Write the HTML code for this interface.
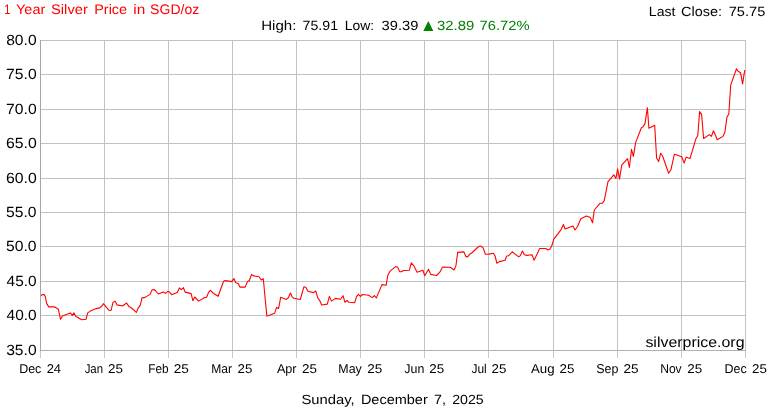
<!DOCTYPE html>
<html><head><meta charset="utf-8"><title>1 Year Silver Price in SGD/oz</title>
<style>
html,body{margin:0;padding:0;background:#fff;}
body{width:770px;height:410px;overflow:hidden;font-family:"Liberation Sans",sans-serif;}
svg{display:block;opacity:0.999;will-change:transform;text-rendering:geometricPrecision;}
svg text{font-family:"Liberation Sans",sans-serif;}
</style></head><body>
<svg width="770" height="410" viewBox="0 0 770 410">
<rect x="0" y="0" width="770" height="410" fill="#ffffff"/>
<g shape-rendering="crispEdges">
<rect x="40" y="351" width="1" height="7" fill="#c8c8c8"/>
<rect x="104" y="351" width="1" height="7" fill="#c8c8c8"/>
<rect x="168" y="351" width="1" height="7" fill="#c8c8c8"/>
<rect x="232" y="351" width="1" height="7" fill="#c8c8c8"/>
<rect x="296" y="351" width="1" height="7" fill="#c8c8c8"/>
<rect x="360" y="351" width="1" height="7" fill="#c8c8c8"/>
<rect x="424" y="351" width="1" height="7" fill="#c8c8c8"/>
<rect x="488" y="351" width="1" height="7" fill="#c8c8c8"/>
<rect x="553" y="351" width="1" height="7" fill="#c8c8c8"/>
<rect x="617" y="351" width="1" height="7" fill="#c8c8c8"/>
<rect x="681" y="351" width="1" height="7" fill="#c8c8c8"/>
<rect x="745" y="351" width="1" height="7" fill="#c8c8c8"/>
<rect x="104" y="40" width="1" height="311" fill="#c2c2c2"/>
<rect x="168" y="40" width="1" height="311" fill="#c2c2c2"/>
<rect x="232" y="40" width="1" height="311" fill="#c2c2c2"/>
<rect x="296" y="40" width="1" height="311" fill="#c2c2c2"/>
<rect x="360" y="40" width="1" height="311" fill="#c2c2c2"/>
<rect x="424" y="40" width="1" height="311" fill="#c2c2c2"/>
<rect x="488" y="40" width="1" height="311" fill="#c2c2c2"/>
<rect x="553" y="40" width="1" height="311" fill="#c2c2c2"/>
<rect x="617" y="40" width="1" height="311" fill="#c2c2c2"/>
<rect x="681" y="40" width="1" height="311" fill="#c2c2c2"/>
<rect x="745" y="40" width="1" height="311" fill="#c2c2c2"/>
<rect x="40" y="40" width="706" height="1" fill="#c2c2c2"/>
<rect x="40" y="74" width="706" height="1" fill="#c2c2c2"/>
<rect x="40" y="109" width="706" height="1" fill="#c2c2c2"/>
<rect x="40" y="143" width="706" height="1" fill="#c2c2c2"/>
<rect x="40" y="178" width="706" height="1" fill="#c2c2c2"/>
<rect x="40" y="212" width="706" height="1" fill="#c2c2c2"/>
<rect x="40" y="246" width="706" height="1" fill="#c2c2c2"/>
<rect x="40" y="281" width="706" height="1" fill="#c2c2c2"/>
<rect x="40" y="315" width="706" height="1" fill="#c2c2c2"/>
<rect x="40" y="350" width="706" height="1" fill="#b0b0b0"/>
<rect x="40" y="40" width="1" height="311" fill="#a6a6a6"/>
</g>
<g lengthAdjust="spacingAndGlyphs">
<text x="4.14" y="14" font-size="13.8" fill="#ff0000" textLength="6.16" lengthAdjust="spacingAndGlyphs">1</text>
<text x="16.05" y="14" font-size="13.8" fill="#ff0000" textLength="29.21" lengthAdjust="spacingAndGlyphs">Year</text>
<text x="51.07" y="14" font-size="13.8" fill="#ff0000" textLength="36.73" lengthAdjust="spacingAndGlyphs">Silver</text>
<text x="94.20" y="14" font-size="13.8" fill="#ff0000" textLength="32.94" lengthAdjust="spacingAndGlyphs">Price</text>
<text x="133.39" y="14" font-size="13.8" fill="#ff0000" textLength="11.98" lengthAdjust="spacingAndGlyphs">in</text>
<text x="150.13" y="14" font-size="13.8" fill="#ff0000" textLength="49.19" lengthAdjust="spacingAndGlyphs">SGD/oz</text>
<text x="648.86" y="16" font-size="13.3" fill="#000000" textLength="26.53" lengthAdjust="spacingAndGlyphs">Last</text>
<text x="680.99" y="16" font-size="13.3" fill="#000000" textLength="40.96" lengthAdjust="spacingAndGlyphs">Close:</text>
<text x="728.73" y="16" font-size="13.3" fill="#000000" textLength="36.54" lengthAdjust="spacingAndGlyphs">75.75</text>
<text x="261.22" y="30" font-size="13.3" fill="#000000" textLength="35.22" lengthAdjust="spacingAndGlyphs">High:</text>
<text x="302.64" y="30" font-size="13.3" fill="#000000" textLength="35.41" lengthAdjust="spacingAndGlyphs">75.91</text>
<text x="344.75" y="30" font-size="13.3" fill="#000000" textLength="29.42" lengthAdjust="spacingAndGlyphs">Low:</text>
<text x="381.62" y="30" font-size="13.3" fill="#000000" textLength="36.73" lengthAdjust="spacingAndGlyphs">39.39</text>
<text x="437.08" y="30" font-size="13.3" fill="#008000" textLength="37.11" lengthAdjust="spacingAndGlyphs">32.89</text>
<text x="479.60" y="30" font-size="13.3" fill="#008000" textLength="50.09" lengthAdjust="spacingAndGlyphs">76.72%</text>
<text x="645.40" y="347" font-size="14.6" fill="#000000" textLength="99.15" lengthAdjust="spacingAndGlyphs">silverprice.org</text>
<text x="301.47" y="404" font-size="13.3" fill="#000000" textLength="53.24" lengthAdjust="spacingAndGlyphs">Sunday,</text>
<text x="360.90" y="404" font-size="13.3" fill="#000000" textLength="66.85" lengthAdjust="spacingAndGlyphs">December</text>
<text x="434.06" y="404" font-size="13.3" fill="#000000" textLength="11.89" lengthAdjust="spacingAndGlyphs">7,</text>
<text x="452.23" y="404" font-size="13.3" fill="#000000" textLength="31.52" lengthAdjust="spacingAndGlyphs">2025</text>
<text x="6.19" y="45" font-size="14.8" fill="#000000" textLength="30.41" lengthAdjust="spacingAndGlyphs">80.0</text>
<text x="6.08" y="79" font-size="14.8" fill="#000000" textLength="30.56" lengthAdjust="spacingAndGlyphs">75.0</text>
<text x="6.08" y="114" font-size="14.8" fill="#000000" textLength="30.56" lengthAdjust="spacingAndGlyphs">70.0</text>
<text x="5.98" y="148" font-size="14.8" fill="#000000" textLength="30.78" lengthAdjust="spacingAndGlyphs">65.0</text>
<text x="5.98" y="183" font-size="14.8" fill="#000000" textLength="30.78" lengthAdjust="spacingAndGlyphs">60.0</text>
<text x="6.03" y="217" font-size="14.8" fill="#000000" textLength="30.54" lengthAdjust="spacingAndGlyphs">55.0</text>
<text x="6.03" y="251" font-size="14.8" fill="#000000" textLength="30.54" lengthAdjust="spacingAndGlyphs">50.0</text>
<text x="6.59" y="286" font-size="14.8" fill="#000000" textLength="30.04" lengthAdjust="spacingAndGlyphs">45.0</text>
<text x="6.59" y="320" font-size="14.8" fill="#000000" textLength="30.04" lengthAdjust="spacingAndGlyphs">40.0</text>
<text x="6.18" y="355" font-size="14.8" fill="#000000" textLength="30.44" lengthAdjust="spacingAndGlyphs">35.0</text>
<text x="19.16" y="373" font-size="12.8" fill="#000000" textLength="22.20" lengthAdjust="spacingAndGlyphs">Dec</text>
<text x="46.67" y="373" font-size="12.8" fill="#000000" textLength="14.41" lengthAdjust="spacingAndGlyphs">24</text>
<text x="84.66" y="373" font-size="12.8" fill="#000000" textLength="18.44" lengthAdjust="spacingAndGlyphs">Jan</text>
<text x="108.08" y="373" font-size="12.8" fill="#000000" textLength="14.89" lengthAdjust="spacingAndGlyphs">25</text>
<text x="148.18" y="373" font-size="12.8" fill="#000000" textLength="20.40" lengthAdjust="spacingAndGlyphs">Feb</text>
<text x="173.76" y="373" font-size="12.8" fill="#000000" textLength="15.17" lengthAdjust="spacingAndGlyphs">25</text>
<text x="211.27" y="373" font-size="12.8" fill="#000000" textLength="20.77" lengthAdjust="spacingAndGlyphs">Mar</text>
<text x="237.57" y="373" font-size="12.8" fill="#000000" textLength="14.83" lengthAdjust="spacingAndGlyphs">25</text>
<text x="276.90" y="373" font-size="12.8" fill="#000000" textLength="19.66" lengthAdjust="spacingAndGlyphs">Apr</text>
<text x="302.01" y="373" font-size="12.8" fill="#000000" textLength="14.85" lengthAdjust="spacingAndGlyphs">25</text>
<text x="338.32" y="373" font-size="12.8" fill="#000000" textLength="23.46" lengthAdjust="spacingAndGlyphs">May</text>
<text x="367.27" y="373" font-size="12.8" fill="#000000" textLength="15.05" lengthAdjust="spacingAndGlyphs">25</text>
<text x="404.31" y="373" font-size="12.8" fill="#000000" textLength="19.99" lengthAdjust="spacingAndGlyphs">Jun</text>
<text x="429.25" y="373" font-size="12.8" fill="#000000" textLength="14.93" lengthAdjust="spacingAndGlyphs">25</text>
<text x="471.41" y="373" font-size="12.8" fill="#000000" textLength="15.28" lengthAdjust="spacingAndGlyphs">Jul</text>
<text x="491.57" y="373" font-size="12.8" fill="#000000" textLength="14.83" lengthAdjust="spacingAndGlyphs">25</text>
<text x="531.03" y="373" font-size="12.8" fill="#000000" textLength="23.58" lengthAdjust="spacingAndGlyphs">Aug</text>
<text x="559.47" y="373" font-size="12.8" fill="#000000" textLength="14.83" lengthAdjust="spacingAndGlyphs">25</text>
<text x="596.26" y="373" font-size="12.8" fill="#000000" textLength="22.13" lengthAdjust="spacingAndGlyphs">Sep</text>
<text x="623.54" y="373" font-size="12.8" fill="#000000" textLength="15.13" lengthAdjust="spacingAndGlyphs">25</text>
<text x="660.15" y="373" font-size="12.8" fill="#000000" textLength="21.53" lengthAdjust="spacingAndGlyphs">Nov</text>
<text x="687.25" y="373" font-size="12.8" fill="#000000" textLength="14.93" lengthAdjust="spacingAndGlyphs">25</text>
<text x="724.55" y="373" font-size="12.8" fill="#000000" textLength="22.17" lengthAdjust="spacingAndGlyphs">Dec</text>
<text x="752.01" y="373" font-size="12.8" fill="#000000" textLength="14.85" lengthAdjust="spacingAndGlyphs">25</text>
</g>
<path d="M423.3 30.9 L428.3 21.0 L433.3 30.9 Z" fill="#008000"/>
<polyline points="41.0,295.7 42.7,294.4 44.4,294.7 45.3,296.6 46.6,303.4 48.7,306.9 54.3,306.7 58.4,309.3 60.5,319.3 62.4,315.9 70.4,312.9 72.3,315.4 74.0,312.9 75.7,316.3 81.7,319.7 86.0,319.3 87.7,312.9 90.3,311.1 96.3,308.6 99.7,307.9 101.9,306.0 103.4,303.7 109.0,310.3 111.1,310.5 112.9,302.6 115.0,301.1 117.1,304.9 122.5,306.0 126.6,303.0 128.7,306.4 130.9,307.5 136.4,312.4 138.1,308.1 140.3,305.1 142.0,297.9 145.0,297.4 150.1,294.4 151.9,290.1 154.0,289.5 155.7,291.0 158.3,294.0 163.4,292.0 165.6,293.4 167.8,291.3 169.3,291.9 171.6,294.7 177.3,292.4 179.4,287.9 181.3,289.6 183.4,287.7 185.1,292.1 191.1,293.6 192.9,300.7 194.8,297.0 198.7,301.1 204.4,297.7 206.6,297.3 208.7,292.1 210.4,290.3 213.0,293.0 218.1,296.3 223.6,281.3 225.2,280.6 231.9,281.6 233.9,278.6 235.8,282.7 238.2,283.6 239.9,287.1 245.2,287.1 247.4,281.8 249.4,280.5 251.4,274.6 253.7,275.9 259.0,276.8 261.3,280.0 263.3,278.7 266.8,315.9 268.9,315.6 274.7,313.2 276.6,307.4 278.6,308.4 280.7,297.3 286.3,299.4 288.3,297.8 290.4,293.0 292.1,296.8 293.8,298.3 300.3,299.5 303.9,286.8 305.9,287.6 308.0,291.3 313.6,292.6 315.7,291.0 317.9,298.1 319.6,300.3 321.7,305.0 327.3,304.1 329.4,296.4 331.4,301.1 335.4,298.4 340.6,299.3 343.0,295.7 344.9,302.2 347.0,300.5 349.1,302.3 354.7,302.7 356.4,296.9 358.4,294.3 360.5,296.3 362.5,294.5 368.6,295.3 372.3,297.6 374.3,295.7 376.4,297.9 382.0,284.6 386.1,285.3 387.8,275.5 389.8,271.4 395.6,266.6 397.7,267.3 399.6,271.6 401.4,271.8 403.5,270.5 409.3,270.3 411.3,262.8 413.7,265.6 417.1,272.3 422.9,270.3 424.8,275.8 428.5,269.3 430.7,274.4 436.6,275.5 440.0,271.9 442.6,267.1 450.3,267.3 454.1,270.0 455.9,265.9 457.7,252.4 464.0,251.9 465.7,256.4 467.6,256.9 470.0,253.9 471.7,253.0 478.1,247.0 480.3,246.1 482.9,247.4 485.4,254.3 488.9,254.1 493.4,253.3 495.1,256.0 496.9,263.3 499.4,261.6 505.0,260.3 506.7,256.0 508.4,255.8 512.3,251.9 518.7,256.9 520.4,255.6 522.4,250.9 524.3,254.7 526.9,255.4 532.0,254.7 534.1,260.3 539.7,248.5 545.7,248.5 547.9,250.0 550.0,249.1 551.7,246.1 553.8,239.2 561.3,229.3 563.4,224.5 565.1,229.0 572.9,226.1 575.0,230.0 577.7,226.2 580.8,218.7 586.4,216.1 590.4,217.6 592.5,222.8 594.3,210.0 600.2,203.2 602.2,203.2 604.2,200.9 608.0,181.6 613.8,174.8 615.9,178.5 617.6,168.8 619.5,179.1 621.7,165.2 627.6,158.7 629.4,167.5 631.5,149.3 633.4,156.4 635.6,142.6 641.4,127.7 643.0,126.8 645.0,123.6 647.4,107.7 648.9,128.2 654.7,125.3 656.6,158.0 658.6,161.6 660.7,153.2 662.7,156.2 668.6,173.3 670.9,169.8 674.4,154.2 681.8,156.7 684.1,163.1 686.1,157.3 690.0,158.6 695.7,139.3 697.8,135.5 699.6,111.6 701.6,114.3 703.6,138.5 709.4,134.6 711.4,136.3 713.5,130.7 717.3,139.8 722.9,136.4 724.9,132.3 727.0,116.9 728.8,114.3 730.7,85.1 736.5,68.7 738.0,71.2 740.6,72.8 742.6,84.0 744.7,70.2" fill="none" stroke="#ff0000" stroke-width="1.1" stroke-linejoin="round"/>
</svg>
</body></html>
